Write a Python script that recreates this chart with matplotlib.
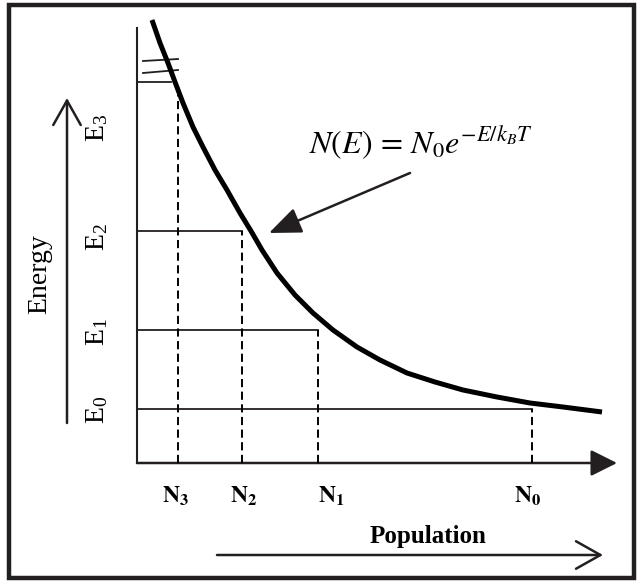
import matplotlib.pyplot as plt
from matplotlib.patches import FancyArrowPatch, Rectangle

plt.rcParams['mathtext.fontset'] = 'stix'
serif = ['Liberation Serif', 'DejaVu Serif']

# curve (population, energy), origin at the axes corner
curve_pop = [15, 23, 31, 38, 46, 56, 66, 78, 90, 103, 114, 125, 140, 158, 176,
             196, 220, 243, 270, 298, 326, 360, 393, 426, 465]
curve_energy = [443, 420, 400, 381, 360, 336, 316, 293, 273, 250, 232, 213, 190, 168, 150,
                133, 116, 103, 90, 81, 73, 66, 60, 56, 51]

level_energy = [54, 133, 232, 381]   # E0..E3
level_pop = [395, 181, 105, 34]      # where each level line stops
dash_pop = [395, 181, 105, 41]       # N0..N3
dash_top = [54, 133, 232, 368]

e_labels = ['$\\mathregular{E_0}$', '$\\mathregular{E_1}$', '$\\mathregular{E_2}$', '$\\mathregular{E_3}$']
e_label_y = [53, 131, 226, 335]
n_labels = ['$\\mathbf{N_0}$', '$\\mathbf{N_1}$', '$\\mathbf{N_2}$', '$\\mathbf{N_3}$']
n_label_x = [391, 194, 107, 39]

fig = plt.figure(figsize=(6.39, 5.81), dpi=100)
ax = fig.add_axes([0, 0, 1, 1])
ax.set_xlim(-137, 502)
ax.set_ylim(-118, 463)
ax.axis('off')

k = '#231f20'
# outer frame
ax.add_patch(Rectangle((-128, -115), 625, 573, fill=False, lw=3.2, color=k))

# axes
ax.plot([0, 0], [0, 435], color=k, lw=1.5)
ax.add_patch(FancyArrowPatch((0, 0), (480, 0), arrowstyle='-|>,head_length=0.9,head_width=0.45',
                             mutation_scale=18, color=k, lw=1.8, shrinkA=0, shrinkB=0))

# energy levels and dashed drops
for e, p in zip(level_energy, level_pop):
    ax.plot([0, p], [e, e], color=k, lw=1.3)
ax.plot([6, 41], [402, 404], color=k, lw=1.3)
ax.plot([6, 41], [390, 393], color=k, lw=1.3)
for p, t in zip(dash_pop, dash_top):
    ax.plot([p, p], [0, t], color='black', lw=1.4, linestyle=(0, (4.2, 2.3)))

# distribution curve
ax.plot(curve_pop, curve_energy, color='black', lw=3.6, solid_capstyle='butt', solid_joinstyle='round')

# equation + pointer arrow
ax.text(284, 320, r'$N(E)\,=\,N_0e^{-E/k_BT}$', fontsize=23, ha='center', va='center')
ax.add_patch(FancyArrowPatch((273, 290), (132, 230), arrowstyle='-|>,head_length=1.1,head_width=0.45',
                             mutation_scale=18, color=k, lw=1.8, shrinkA=0, shrinkB=0))

# level labels
for lab, y in zip(e_labels, e_label_y):
    ax.text(-40, y, lab, fontsize=20, rotation=90, ha='center', va='center', family=serif)
for lab, x in zip(n_labels, n_label_x):
    ax.text(x, -33, lab, fontsize=17, ha='center', va='center', family=serif)

ax.text(-97, 189, 'Energy', fontsize=20, rotation=90, ha='center', va='center', family=serif)
ax.add_patch(FancyArrowPatch((-70, 40), (-70, 365), arrowstyle='->,head_length=0.8,head_width=0.45',
                             mutation_scale=22, color=k, lw=1.8, shrinkA=0, shrinkB=0))

ax.text(291, -73, 'Population', fontsize=18, fontweight='bold', ha='center', va='center', family=serif)
ax.add_patch(FancyArrowPatch((80, -92), (466, -92), arrowstyle='->,head_length=0.8,head_width=0.45',
                             mutation_scale=22, color=k, lw=1.8, shrinkA=0, shrinkB=0))

fig.savefig('out.png', dpi=100)
